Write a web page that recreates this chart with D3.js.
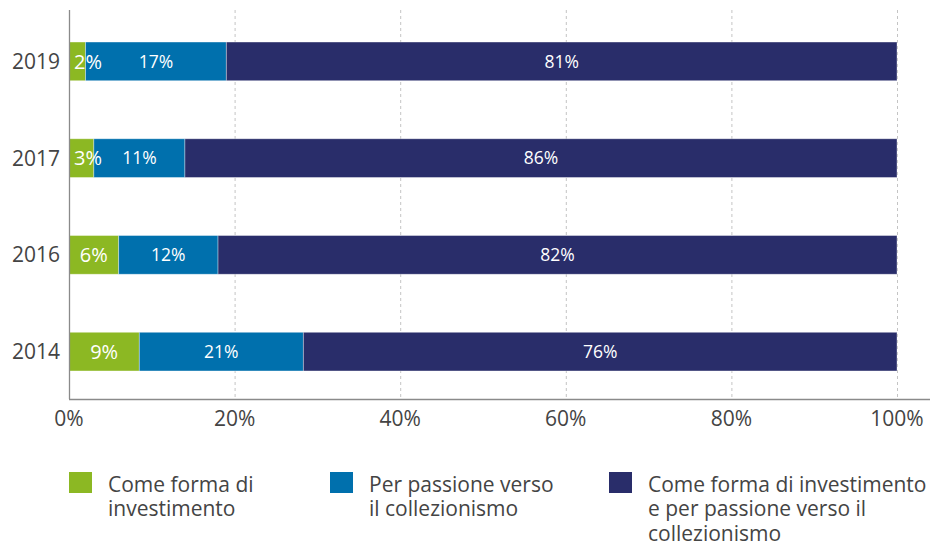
<!DOCTYPE html>
<html>
<head>
<meta charset="utf-8">
<script src="https://cdn.jsdelivr.net/npm/d3@7"></script>
<style>
  html, body { margin: 0; padding: 0; background: #fff; }
  svg { display: block; font-family: "Open Sans", "Noto Sans", sans-serif; }
</style>
</head>
<body>
<svg id="chart" width="930" height="542"></svg>
<script>
// Survey years, top to bottom
const years = ["2019", "2017", "2016", "2014"];
// Share of answers per motivation (percent)
const investimento = [2, 3, 6, 9];
const passione = [17, 11, 12, 21];
const entrambi = [81, 86, 82, 76];

const seriesKeys = ["investimento", "passione", "entrambi"];
const seriesColors = ["#8cb823", "#0070ad", "#292d6a"];
const legendLabels = [
  ["Come forma di", "investimento"],
  ["Per passione verso", "il collezionismo"],
  ["Come forma di investimento", "e per passione verso il", "collezionismo"]
];
const xTicks = [0, 0.2, 0.4, 0.6, 0.8, 1];

const rows = years.map((yr, i) => ({
  year: yr,
  investimento: investimento[i],
  passione: passione[i],
  entrambi: entrambi[i]
}));

const svg = d3.select("#chart");
const plotLeft = 69, plotRight = 897, plotTop = 10, plotBottom = 399;

const x = d3.scaleLinear().domain([0, 1]).range([plotLeft, plotRight]);
const y = d3.scaleBand().domain(years).range([13, 400])
  .paddingInner(0.6).paddingOuter(0.3);
const color = d3.scaleOrdinal().domain(seriesKeys).range(seriesColors);

// Dashed vertical gridlines
svg.append("g").selectAll("line").data(xTicks.slice(1)).join("line")
  .attr("x1", d => x(d) + 0.5).attr("x2", d => x(d) + 0.5)
  .attr("y1", plotTop).attr("y2", plotBottom)
  .attr("stroke", "#c4c4c4").attr("stroke-width", 1)
  .attr("stroke-dasharray", "3,3");

// Stacked, normalised bars
const stacked = d3.stack().keys(seriesKeys).offset(d3.stackOffsetExpand)(rows);

const layers = svg.append("g").selectAll("g").data(stacked).join("g")
  .attr("fill", d => color(d.key));

layers.selectAll("rect").data(d => d).join("rect")
  .attr("x", d => x(d[0]))
  .attr("y", d => y(d.data.year))
  .attr("width", d => x(d[1]) - x(d[0]))
  .attr("height", y.bandwidth())
  .attr("stroke", "rgba(255,255,255,0.45)")
  .attr("stroke-width", 0.8);

// Value labels inside the segments
const labelG = svg.append("g").attr("fill", "#fff");
stacked.forEach((layer, li) => {
  const key = layer.key;
  const big = li === 0;
  layer.forEach(d => {
    const txt = d.data[key] + "%";
    let cx = (x(d[0]) + x(d[1])) / 2;
    const t = labelG.append("text")
      .attr("y", y(d.data.year) + y.bandwidth() / 2)
      .attr("dy", "0.36em")
      .attr("text-anchor", "middle")
      .style("font-size", big ? "20px" : "17.5px")
      .text(txt);
    if (big) {
      const w = t.node().getComputedTextLength();
      cx = Math.max(cx, plotLeft + 5 + w / 2);
    }
    t.attr("x", cx);
  });
});

// Axis lines
svg.append("line")
  .attr("x1", plotLeft + 0.5).attr("x2", plotLeft + 0.5)
  .attr("y1", plotTop).attr("y2", plotBottom)
  .attr("stroke", "#8a8a8a").attr("stroke-width", 1.3);
svg.append("line")
  .attr("x1", plotLeft).attr("x2", 930)
  .attr("y1", plotBottom + 0.5).attr("y2", plotBottom + 0.5)
  .attr("stroke", "#8a8a8a").attr("stroke-width", 1.3);

// Category labels
svg.append("g").selectAll("text").data(years).join("text")
  .attr("x", plotLeft - 9)
  .attr("y", d => y(d) + y.bandwidth() / 2)
  .attr("dy", "0.36em")
  .attr("text-anchor", "end")
  .attr("fill", "#444")
  .style("font-size", "21px")
  .text(d => d);

// Percentage tick labels
svg.append("g").selectAll("text").data(xTicks).join("text")
  .attr("x", d => x(d))
  .attr("y", 426)
  .attr("text-anchor", "middle")
  .attr("fill", "#444")
  .style("font-size", "21px")
  .text(d3.format(".0%"));

// Legend
const legendX = [69, 330, 609];
const lg = svg.append("g").selectAll("g").data(seriesKeys).join("g")
  .attr("transform", (d, i) => `translate(${legendX[i]},472)`);
lg.append("rect")
  .attr("width", 23).attr("height", 21)
  .attr("fill", d => color(d));
lg.append("text")
  .attr("fill", "#444")
  .style("font-size", "21px")
  .selectAll("tspan").data((d, i) => legendLabels[i]).join("tspan")
  .attr("x", 39)
  .attr("y", (d, j) => 19.5 + j * 24.5)
  .text(d => d);
</script>
</body>
</html>
